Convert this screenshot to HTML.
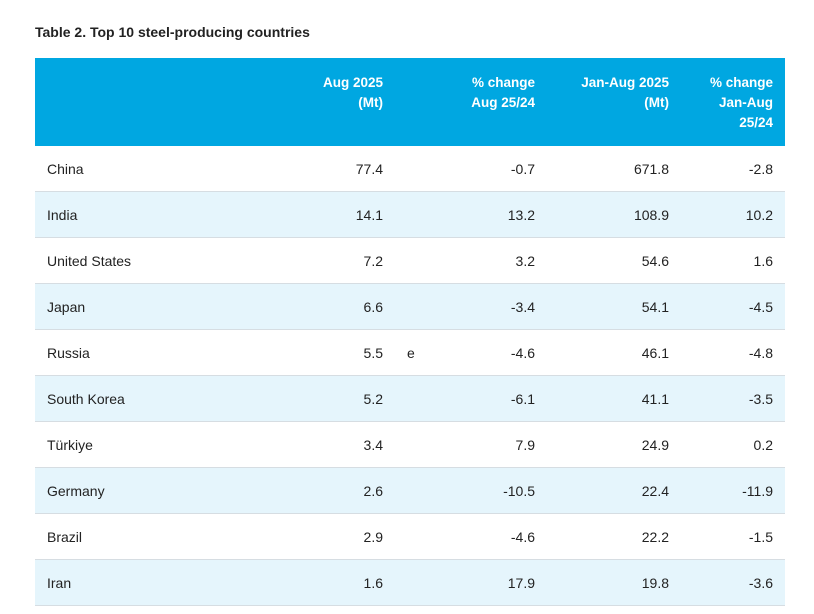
<!DOCTYPE html>
<html><head><style>
body{margin:0;width:814px;height:614px;background:#fff;font-family:"Liberation Sans",sans-serif;position:relative;overflow:hidden;color:#222}
.t{position:absolute;left:35px;top:24px;font-size:14px;font-weight:bold;color:#222}
.hd{position:absolute;left:35px;top:58px;width:750px;height:88px;background:#00a7e1}
.h{position:absolute;color:#fff;font-weight:bold;font-size:13.5px;line-height:20px;text-align:right;top:73px}
.row{position:absolute;left:35px;width:750px;height:45px;border-bottom:1px solid #d6dde2}
.c{position:absolute;font-size:14px;line-height:47px;top:0}
.n{left:12px}
.r{text-align:right}
</style></head><body>
<div class="t">Table 2. Top 10 steel-producing countries</div>
<div class="hd"></div>
<div class="h" style="right:431px">Aug 2025<br>(Mt)</div>
<div class="h" style="right:279px">% change<br>Aug 25/24</div>
<div class="h" style="right:145px">Jan-Aug 2025<br>(Mt)</div>
<div class="h" style="right:41px">% change<br>Jan-Aug<br>25/24</div>
<div id="rows"></div>
<script>
var d=[["China","77.4","","-0.7","671.8","-2.8"],["India","14.1","","13.2","108.9","10.2"],["United States","7.2","","3.2","54.6","1.6"],["Japan","6.6","","-3.4","54.1","-4.5"],["Russia","5.5","e","-4.6","46.1","-4.8"],["South Korea","5.2","","-6.1","41.1","-3.5"],["Türkiye","3.4","","7.9","24.9","0.2"],["Germany","2.6","","-10.5","22.4","-11.9"],["Brazil","2.9","","-4.6","22.2","-1.5"],["Iran","1.6","","17.9","19.8","-3.6"]];
var h="";
d.forEach(function(r,i){
h+='<div class="row" style="top:'+(146+i*46)+'px;background:'+(i%2?'#e5f5fc':'#fff')+'">'+
'<div class="c n">'+r[0]+'</div>'+
'<div class="c r" style="right:402px">'+r[1]+'</div>'+
'<div class="c" style="left:372px">'+r[2]+'</div>'+
'<div class="c r" style="right:250px">'+r[3]+'</div>'+
'<div class="c r" style="right:116px">'+r[4]+'</div>'+
'<div class="c r" style="right:12px">'+r[5]+'</div></div>';
});
document.getElementById("rows").innerHTML=h;
</script>
</body></html>
